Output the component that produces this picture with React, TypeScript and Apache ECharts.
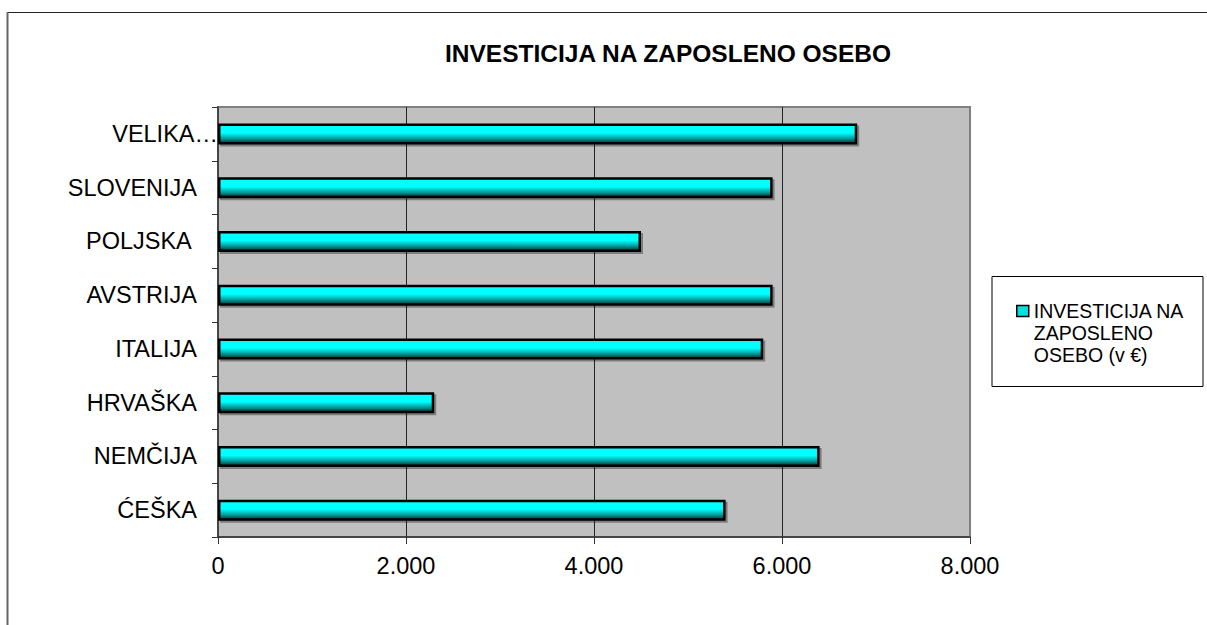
import React, { useEffect, useRef } from "react";
import * as echarts from "echarts";

const categories = ["VELIKA…", "SLOVENIJA", "POLJSKA ", "AVSTRIJA", "ITALIJA", "HRVAŠKA", "NEMČIJA", "ĆEŠKA"];
const values = [6800, 5900, 4500, 5900, 5800, 2300, 6400, 5400];
const seriesName = "INVESTICIJA NA ZAPOSLENO OSEBO (v €)";
const legendLines = ["INVESTICIJA NA", "ZAPOSLENO", "OSEBO (v €)"];
const titleText = "INVESTICIJA NA ZAPOSLENO OSEBO";
const xTicks = { min: 0, max: 8000, interval: 2000 };

const FONT = "'Liberation Sans', Arial, sans-serif";

function fmt(v: number) {
  return String(v).replace(/\B(?=(\d{3})+(?!\d))/g, ".");
}

export default function App() {
  const ref = useRef<HTMLDivElement>(null);
  useEffect(() => {
    if (!ref.current) return;
    const chart = echarts.init(ref.current, null, { renderer: "svg" });
    const barColor = new echarts.graphic.LinearGradient(0, 0, 0, 1, [
      { offset: 0, color: "#00FFFF" },
      { offset: 0.45, color: "#00FFFF" },
      { offset: 0.75, color: "#009C9C" },
      { offset: 1, color: "#003434" },
    ]);
    const catData = categories.map((c, i) =>
      i === 0 ? { value: c, textStyle: { padding: [0, -21, 0, 0] } } : c
    );
    chart.setOption({
      animation: false,
      backgroundColor: "#ffffff",
      title: {
        text: titleText,
        left: 663,
        top: 36,
        textAlign: "center",
        textStyle: { fontFamily: FONT, fontSize: 24.5, fontWeight: "bold", color: "#000" },
      },
      graphic: [
        { type: "line", shape: { x1: 7, y1: 12.5, x2: 1207, y2: 12.5 }, style: { stroke: "#222", lineWidth: 1 } },
        { type: "line", shape: { x1: 7.5, y1: 12, x2: 7.5, y2: 625 }, style: { stroke: "#666", lineWidth: 2 } },
        {
          type: "rect",
          shape: { x: 992, y: 276.5, width: 211, height: 110 },
          style: { fill: "#fff", stroke: "#000", lineWidth: 1 },
          z: -1,
        },
      ],
      legend: {
        orient: "vertical",
        left: 1016,
        top: 256,
        padding: 0,
        itemWidth: 12,
        itemHeight: 11,
        itemGap: 0,
        icon: "rect",
        formatter: () => "\n\n" + legendLines.join("\n"),
        textStyle: {
          fontFamily: FONT,
          fontSize: 19.5,
          lineHeight: 22,
          color: "#000",
        },
        itemStyle: { color: "#00E0E0", borderColor: "#000", borderWidth: 1.5 },
        data: [seriesName],
      },
      grid: {
        left: 218,
        top: 107,
        right: 237,
        bottom: 88,
        show: true,
        backgroundColor: "#C0C0C0",
        borderColor: "#808080",
        borderWidth: 2,
      },
      xAxis: {
        type: "value",
        min: xTicks.min,
        max: xTicks.max,
        interval: xTicks.interval,
        axisLine: { show: true, lineStyle: { color: "#333", width: 1.5 } },
        axisTick: { show: true, length: 7, lineStyle: { color: "#333" } },
        axisLabel: {
          margin: 17,
          fontFamily: FONT,
          fontSize: 23.5,
          color: "#000",
          formatter: (v: number) => fmt(v),
        },
        splitLine: { show: true, showMinLine: false, showMaxLine: false, lineStyle: { color: "#222", width: 1 } },
      },
      yAxis: {
        type: "category",
        data: catData,
        inverse: true,
        axisLine: { show: true, lineStyle: { color: "#333", width: 1.5 } },
        axisTick: { show: true, length: 6, lineStyle: { color: "#333" } },
        axisLabel: { margin: 21, fontFamily: FONT, fontSize: 23.5, color: "#000" },
        splitLine: { show: false },
      },
      series: [
        {
          name: seriesName,
          type: "bar",
          data: values,
          barWidth: 21,
          itemStyle: {
            color: barColor,
            borderColor: "#000",
            borderWidth: 2.5,
            shadowColor: "rgba(0,0,0,0.35)",
            shadowOffsetX: 2,
            shadowOffsetY: 2,
            shadowBlur: 0,
          },
        },
      ],
    });
    return () => chart.dispose();
  }, []);
  return (
    <div
      ref={ref}
      style={{ position: "fixed", left: 0, top: 0, width: 1207, height: 625 }}
    />
  );
}
